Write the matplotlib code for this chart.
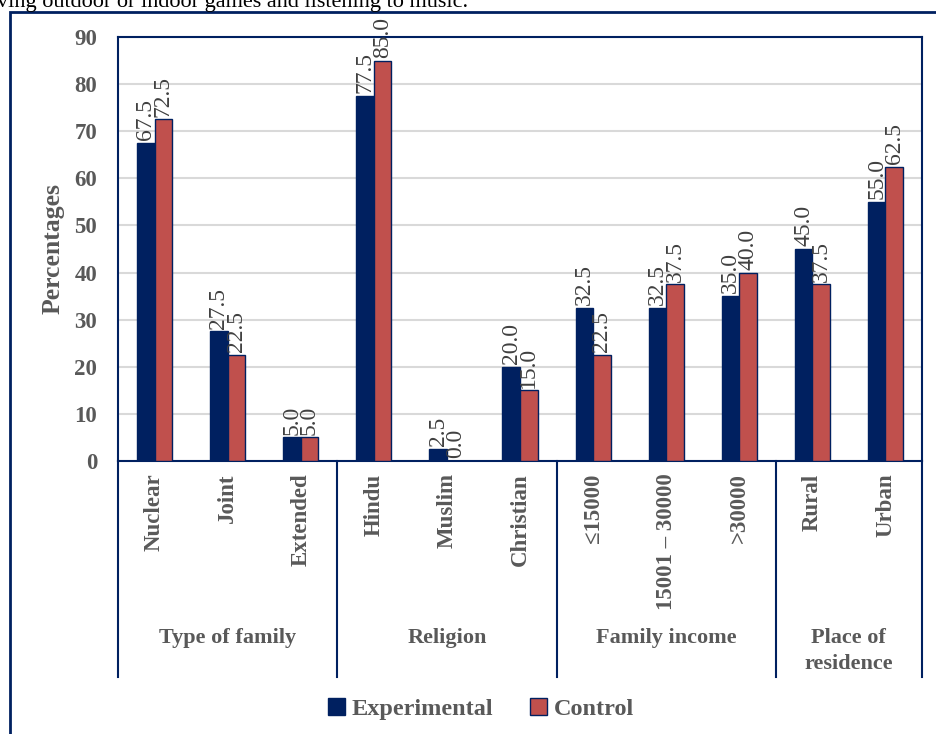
import matplotlib.pyplot as plt
from matplotlib.patches import Rectangle, Patch

# group / category layout of the x axis
groups = ["Type of family", "Religion", "Family income", "Place of\nresidence"]
group_sizes = [3, 3, 3, 2]
categories = ["Nuclear", "Joint", "Extended",
              "Hindu", "Muslim", "Christian",
              "\u226415000", "15001 \u2013 30000", ">30000",
              "Rural", "Urban"]

experimental = [67.5, 27.5, 5.0, 77.5, 2.5, 20.0, 32.5, 32.5, 35.0, 45.0, 55.0]
control = [72.5, 22.5, 5.0, 85.0, 0.0, 15.0, 22.5, 37.5, 40.0, 37.5, 62.5]

navy = "#002060"
red = "#C0504D"
grey = "#595959"

plt.rcParams['font.family'] = ['Liberation Serif', 'DejaVu Serif']

W, H = 936, 734
fig = plt.figure(figsize=(W / 100, H / 100), dpi=100)

# piece of the surrounding document text and the chart frame
fig.text(-3 / W, 1 - 7 / H, "ving outdoor or indoor games and listening to music.",
         fontsize=16, color="black", va="baseline", ha="left")
fig.patches.append(Rectangle((10 / W, -0.1), 1.2, 1 - 12.5 / H + 0.1,
                             transform=fig.transFigure, fill=False,
                             edgecolor=navy, linewidth=2))

left, right, top, bottom = 118, 922, 37, 461
ax = fig.add_axes([left / W, 1 - bottom / H, (right - left) / W, (bottom - top) / H])

x = list(range(len(categories)))
bw = 0.24
ax.bar([i - bw / 2 for i in x], experimental, bw, color=navy, edgecolor=navy,
       linewidth=1, zorder=3, label="Experimental")
ax.bar([i + bw / 2 for i in x], control, bw, color=red, edgecolor=navy,
       linewidth=1, zorder=3, label="Control")

for i in x:
    ax.text(i - bw / 2, experimental[i] + 0.6, f"{experimental[i]:.1f}", rotation=90,
            ha="center", va="bottom", fontsize=17, color="#404040", clip_on=False)
    ax.text(i + bw / 2, control[i] + 0.6, f"{control[i]:.1f}", rotation=90,
            ha="center", va="bottom", fontsize=17, color="#404040", clip_on=False)

ax.set_xlim(-0.5, len(categories) - 0.5)
ax.set_ylim(0, 90)
ax.set_yticks(range(0, 91, 10))
ax.yaxis.grid(True, color="#d9d9d9", linewidth=1.5, zorder=0)
ax.set_axisbelow(True)
ax.tick_params(axis="y", length=0, pad=15, labelsize=16.5, labelcolor=grey)
for lab in ax.get_yticklabels():
    lab.set_fontweight("bold")

ax.set_xticks(x)
ax.set_xticklabels(categories, rotation=90, va="top", ha="center",
                   fontsize=16.5, fontweight="bold", color=grey)
ax.tick_params(axis="x", length=0, pad=9)

for s in ax.spines.values():
    s.set_color(navy)
    s.set_linewidth(1.5)

ax.set_ylabel("Percentages", fontsize=18.5, fontweight="bold", color=grey, labelpad=7)

# group separators and group names below the category labels
sep_depth = (677 - bottom) / (bottom - top)
trans = ax.get_xaxis_transform()
start = -0.5
for g, n in zip(groups, group_sizes):
    end = start + n
    ax.plot([start, start], [0, -sep_depth], color=navy, lw=1.5,
            transform=trans, clip_on=False)
    ypos = -(638 - bottom) / (bottom - top) if "\n" not in g else -(651 - bottom) / (bottom - top)
    ax.text((start + end) / 2, ypos, g, transform=trans, ha="center", va="center",
            fontsize=16, fontweight="bold", color=grey, linespacing=1.35)
    start = end
ax.plot([start, start], [0, -sep_depth], color=navy, lw=1.5,
        transform=trans, clip_on=False)

handles = [Patch(facecolor=navy, edgecolor=navy, label="Experimental"),
           Patch(facecolor=red, edgecolor=navy, label="Control")]
fig.legend(handles=handles, loc="center", bbox_to_anchor=(481 / W, 1 - 709 / H),
           ncol=2, frameon=False, handlelength=0.7, handleheight=0.7,
           handletextpad=0.3, columnspacing=1.5,
           prop={"size": 17.5, "weight": "bold"}, labelcolor=grey)

fig.savefig("out.png", dpi=100)
